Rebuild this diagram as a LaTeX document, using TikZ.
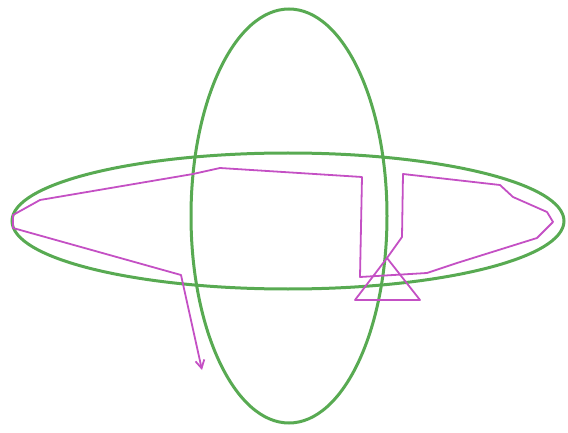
\documentclass[tikz,border=0pt]{standalone}
\usepackage{tikz}
\usetikzlibrary{arrows.meta}
\definecolor{ringgreen}{RGB}{88,170,82}
\definecolor{pathpink}{RGB}{196,80,196}

\begin{document}
\begin{tikzpicture}[
        x=1pt, y=-1pt,
        ring/.style={draw=ringgreen, line width=3pt},
        trace/.style={draw=pathpink, line width=1.8pt, line join=round},
        mark2/.style={draw=pathpink, line width=1.8pt, line join=round}
    ]
%
    \useasboundingbox (0,0) rectangle (568,433);
%
    % Rings
    \draw[ring] (289,216) ellipse [x radius=98, y radius=207];
    \draw[ring] (288,221) ellipse [x radius=276, y radius=68];
%
    % Trace
    \draw[trace, -{Straight Barb[length=8pt, width=9pt]}]
        (387,258) -- (402,237) -- (403,174) -- (500,185) -- (513,197)
        -- (547,212) -- (553,222) -- (537,238) -- (457,263) -- (427,273)
        -- (360,277) -- (362,177) -- (220,168) -- (193,174) -- (40,200)
        -- (13,215) -- (13,228) -- (181,275) -- (202,370);
%
    % Triangle
    \draw[mark2] (355,300) -- (387,258) -- (420,300) -- cycle;
%
\end{tikzpicture}
\end{document}
